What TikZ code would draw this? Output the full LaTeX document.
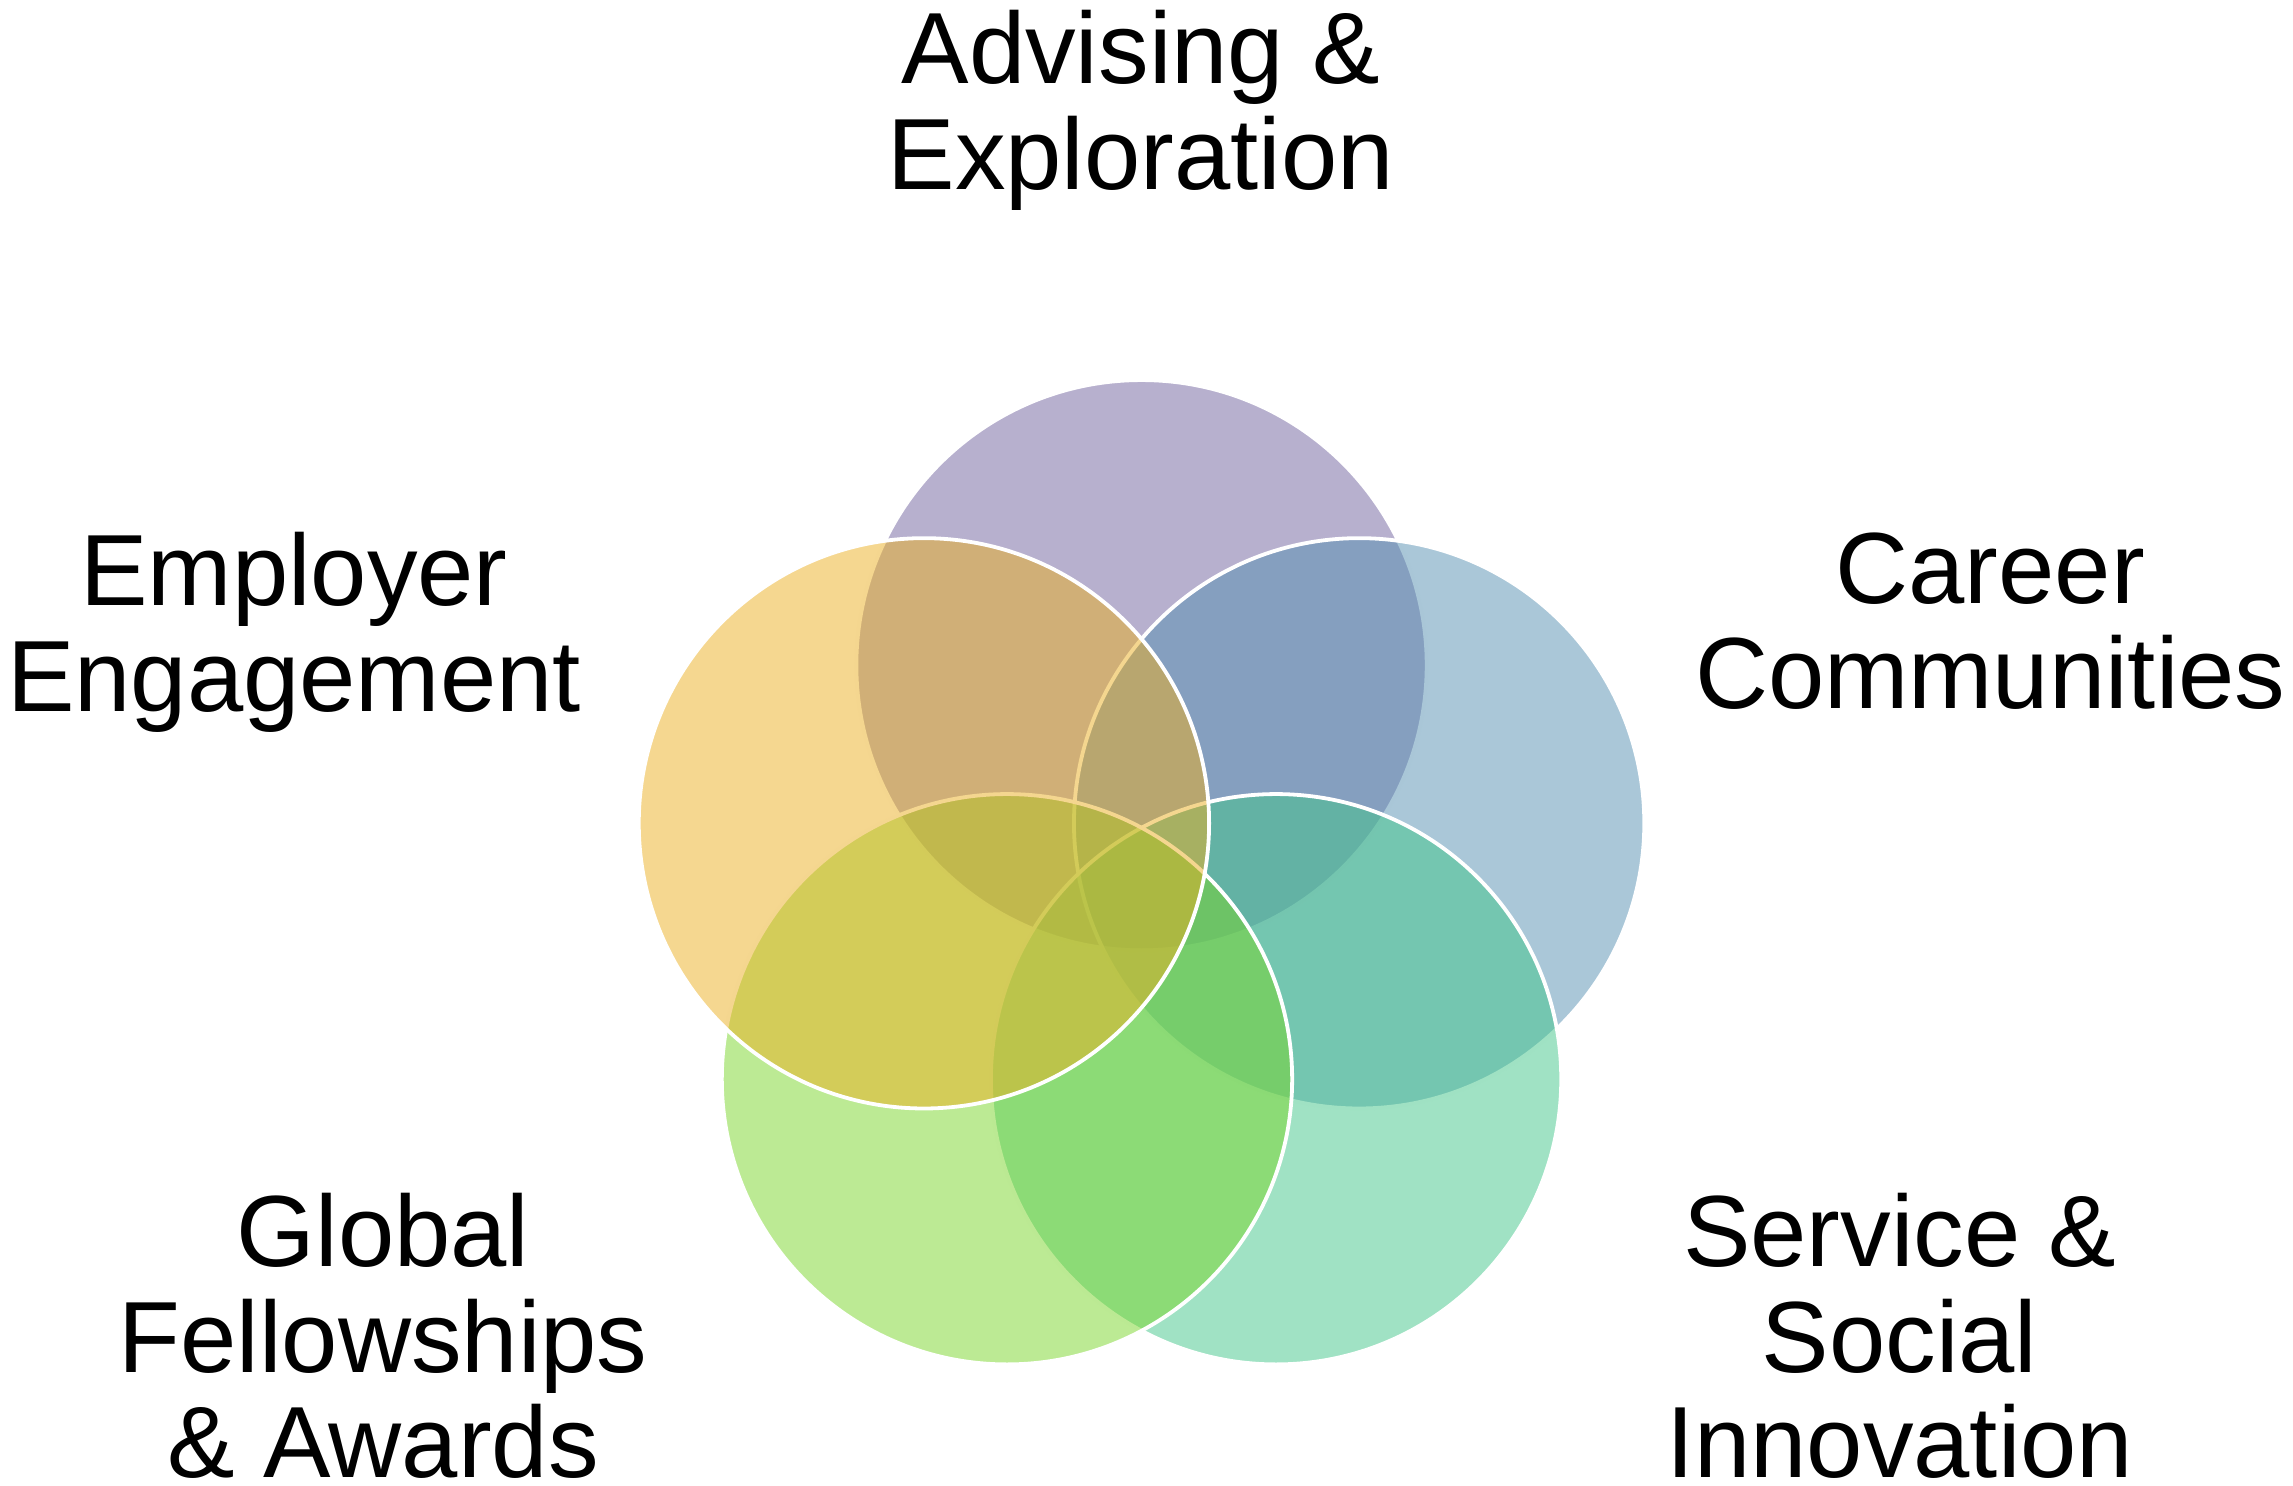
\documentclass[tikz,border=0pt]{standalone}
\usepackage{fontspec}
\setmainfont{Liberation Sans}
\definecolor{cpurple}{RGB}{111,97,157}
\definecolor{cblue}{RGB}{85,143,177}
\definecolor{cteal}{RGB}{65,197,137}
\definecolor{clgreen}{RGB}{121,213,41}
\definecolor{cyellow}{RGB}{235,175,33}
\begin{document}
\begin{tikzpicture}[x=1pt,y=-1pt,
  circ/.style={circle, minimum size=390pt, inner sep=0pt, draw=white, line width=2.6pt, fill opacity=0.5, draw opacity=1},
  lbl/.style={font=\fontsize{69.2}{72}\selectfont, align=center, inner sep=0pt, anchor=north}]
\useasboundingbox (0,0) rectangle (1568,1016);
\node[circ, fill=cpurple] (adv) at (780.6,454.9) {};
\node[circ, fill=cblue] (car) at (929.4,563.0) {};
\node[circ, fill=cteal] (ser) at (872.6,738.0) {};
\node[circ, fill=clgreen] (glo) at (688.6,738.0) {};
\node[circ, fill=cyellow] (emp) at (631.8,563.0) {};
\node[lbl] (tadv) at (780,7) {Advising \&\\Exploration};
\node[lbl] (temp) at (201,364) {Employer\\Engagement};
\node[lbl] (tcar) at (1361,364) {Career\\Communities};
\node[lbl] (tglo) at (262,816) {Global\\Fellowships\\\& Awards};
\node[lbl] (tser) at (1299,816) {Service \&\\Social\\Innovation};
\end{tikzpicture}
\end{document}
